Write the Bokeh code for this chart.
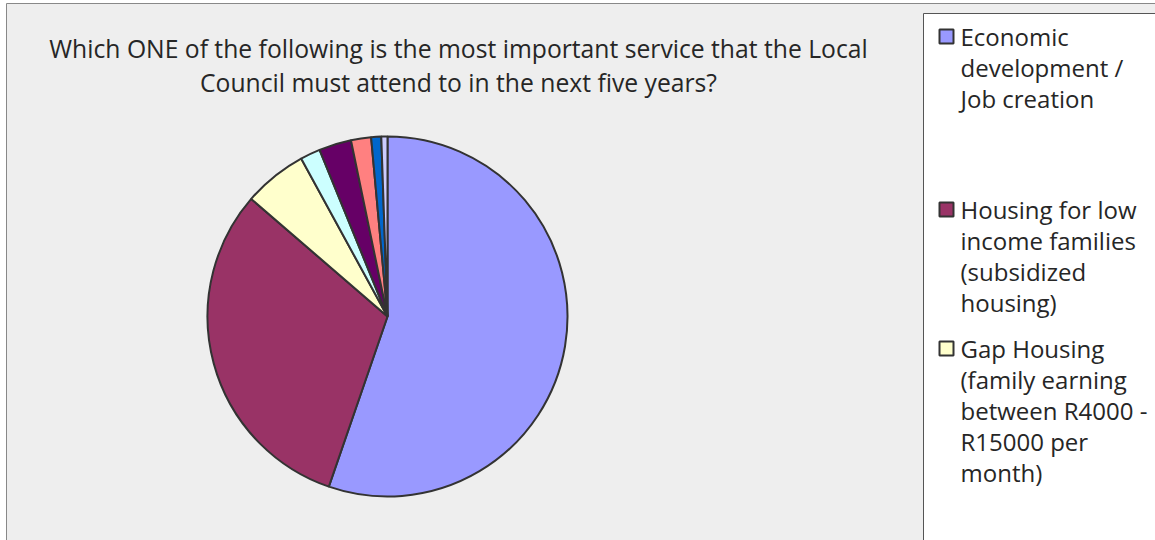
import math
from bokeh.plotting import figure
from bokeh.models import Range1d, ColumnDataSource
from bokeh.core.properties import value
from bokeh.embed import file_html
from bokeh.resources import INLINE

# ---- data (percent of respondents) ----
categories = [
    "Economic development / Job creation",
    "Housing for low income families (subsidized housing)",
    "Gap Housing (family earning between R4000 - R15000 per month)",
    "Service 4",
    "Service 5",
    "Service 6",
    "Service 7",
    "Service 8",
]
shares = [55.2, 31.0, 5.7, 1.8, 2.9, 1.8, 0.9, 0.55]
colors = ["#9999FF", "#993366", "#FFFFCC", "#CCFFFF", "#660066", "#FF8080", "#0066CC", "#CCCCFF"]
legend_labels = [
    "Economic\ndevelopment /\nJob creation",
    "Housing for low\nincome families\n(subsidized\nhousing)",
    "Gap Housing\n(family earning\nbetween R4000 -\nR15000 per\nmonth)",
]
title_lines = [
    "Which ONE of the following is the most important service that the Local",
    "Council must attend to in the next five years?",
]

W, H = 1155, 540
p = figure(width=W, height=H, x_range=Range1d(0, W), y_range=Range1d(0, H),
           output_backend="svg", toolbar_location=None, min_border=0,
           background_fill_color="white", border_fill_color="white")
p.axis.visible = False
p.grid.visible = False
p.outline_line_color = None

def Y(py):
    return H - py

# chart area background with border (top/left visible)
p.quad(left=[6], right=[W + 50], top=[Y(3)], bottom=[-50],
       fill_color="#EEEEEE", line_color="#888888", line_width=1)

# title
p.text(x=[458, 458], y=[Y(48), Y(82)], text=title_lines,
       text_align="center", text_baseline="middle",
       text_font=value("Open Sans"), text_font_size="24.7px", text_color="#262626")

# pie
total = sum(shares)
cx, cy, r = 387, Y(316), 180
starts, ends = [], []
cum = 0.0
for s in shares:
    a0 = math.pi / 2 - 2 * math.pi * cum / total
    cum += s
    a1 = math.pi / 2 - 2 * math.pi * cum / total
    starts.append(a0)
    ends.append(a1)
src = ColumnDataSource(dict(cat=categories, share=shares, color=colors,
                            start=starts, end=ends))
p.wedge(x=cx, y=cy, radius=r, start_angle="start", end_angle="end",
        direction="clock", fill_color="color", line_color="#333333",
        line_width=2, source=src)

# legend box (extends past window edge)
p.quad(left=[923], right=[W + 50], top=[Y(13)], bottom=[-50],
       fill_color="white", line_color="#555555", line_width=1)

item_tops = [36, 209, 348]
marker_x = 946
text_x = 960
p.rect(x=[marker_x] * 3, y=[Y(t) for t in item_tops], width=14, height=14,
       fill_color=colors[:3], line_color="#333333", line_width=2)
line_h = 31
for lab, t in zip(legend_labels, item_tops):
    lines = lab.split("\n")
    p.text(x=[text_x] * len(lines), y=[Y(t + i * line_h) for i in range(len(lines))],
           text=lines, text_align="left", text_baseline="middle",
           text_font=value("Open Sans"), text_font_size="24px", text_color="#262626")

open("out.html", "w").write(file_html(p, INLINE))
